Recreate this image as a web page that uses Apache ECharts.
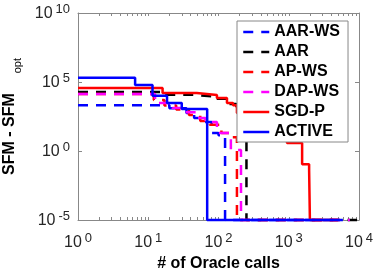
<!DOCTYPE html>
<html><head><meta charset="utf-8">
<script src="https://cdn.jsdelivr.net/npm/echarts@6/dist/echarts.min.js"></script>
<style>html,body{margin:0;padding:0;background:#fff}#c{width:374px;height:272px}</style>
</head><body><div id="c"></div>
<script>
// ---- data ----
const seriesNames = ['AAR-WS', 'AAR', 'AP-WS', 'DAP-WS', 'SGD-P', 'ACTIVE'];

const aarwsX = [1, 20, 35, 45, 55, 80, 100, 124, 5000];
const aarwsY = [2100, 1250, 560, 250, 125, 20, 14, 1e-5, 1e-5];

const aarX = [1, 15, 45, 80, 130, 180, 250, 9400];
const aarY = [19000, 12000, 9000, 6000, 2500, 800, 1e-5, 1e-5];

const apwsX = [1, 12, 17, 25, 38, 55, 75, 110, 150, 183, 5000];
const apwsY = [13500, 5000, 2000, 1000, 400, 150, 80, 20, 10, 1e-5, 1e-5];

const dapwsX = [1, 12.5, 22, 33, 48, 65, 95, 150, 209, 7400];
const dapwsY = [13500, 3000, 1300, 630, 250, 125, 20, 1.2, 1e-5, 1e-5];

const sgdpX = [1, 16, 49, 95, 132, 161, 183, 300, 500, 700, 944, 1550, 1950, 2000, 5000];
const sgdpY = [37000, 16000, 11500, 7000, 3000, 2100, 560, 200, 50, 15, 3.8, 0.11, 0.04, 1e-5, 1e-5];

const activeX = [1, 6.5, 11.5, 18.5, 30, 69, 5900];
const activeY = [200000, 60000, 10000, 3000, 1100, 1e-5, 1e-5];

const xTickLabels = [1, 10, 100, 1000, 10000];
const yTickLabels = [1e-5, 1, 1e5, 1e10];

// ---- build ----
const xMinorTicks = [];
for (let d = 1; d < 10000; d *= 10) for (let k = 1; k < 10; k++) xMinorTicks.push(d * k);
xMinorTicks.push(10000);

function zip(xs, ys) { return xs.map((x, i) => [x, ys[i]]); }
const FONT = 'Liberation Sans';
const expLabel = v => '{b|10}{s|' + Math.round(Math.log10(v)) + '}';
const labelRich = {
  b: { fontSize: 16, fontFamily: FONT, color: '#262626', lineHeight: 18, verticalAlign: 'bottom' },
  s: { fontSize: 13, fontFamily: FONT, color: '#262626', lineHeight: 13, verticalAlign: 'bottom', padding: [0, 0, 6, 3] }
};
const axisLine = { show: true, lineStyle: { color: '#888', width: 1 } };

const defs = [
  [aarwsX, aarwsY, '#0000ff', 'dashed'],
  [aarX, aarY, '#000000', 'dashed'],
  [apwsX, apwsY, '#ff0000', 'dashed'],
  [dapwsX, dapwsY, '#ff00ff', 'dashed'],
  [sgdpX, sgdpY, '#ff0000', 'solid'],
  [activeX, activeY, '#0000ff', 'solid']
];

const series = defs.map((d, i) => ({
  name: seriesNames[i],
  type: 'line',
  step: 'end',
  symbol: 'none',
  clip: false,
  data: zip(d[0], d[1]),
  lineStyle: { color: d[2], width: 2.5, type: d[3] === 'dashed' ? [10, 8] : 'solid' },
  itemStyle: { color: d[2] }
}));

const chart = echarts.init(document.getElementById('c'), null, { renderer: 'canvas' });
chart.setOption({
  animation: false,
  backgroundColor: '#fff',
  grid: { left: 78, right: 15, top: 13, bottom: 52, containLabel: false, outerBoundsMode: 'none' },
  xAxis: [{
    type: 'log', logBase: 10, min: 1, max: 10000, position: 'bottom',
    axisLine: axisLine,
    axisTick: { show: true, inside: true, length: 3, customValues: xMinorTicks, lineStyle: { color: '#888' } },
    axisLabel: { show: true, customValues: xTickLabels, formatter: expLabel, rich: labelRich, margin: 13 },
    splitLine: { show: false },
    name: '# of Oracle calls', nameLocation: 'middle', nameGap: 34,
    nameTextStyle: { fontSize: 16, fontWeight: 'bold', fontFamily: FONT, color: '#000' }
  }, {
    type: 'log', logBase: 10, min: 1, max: 10000, position: 'top',
    axisLine: axisLine,
    axisTick: { show: true, inside: true, length: 3, customValues: xMinorTicks, lineStyle: { color: '#888' } },
    axisLabel: { show: false },
    splitLine: { show: false }
  }],
  yAxis: [{
    type: 'log', logBase: 10, min: 1e-5, max: 1e10, position: 'left',
    axisLine: axisLine,
    axisTick: { show: true, inside: true, length: 4, customValues: yTickLabels, lineStyle: { color: '#888' } },
    axisLabel: { show: true, customValues: yTickLabels, formatter: expLabel, rich: labelRich, margin: 8 },
    splitLine: { show: false },
    name: '{m|SFM - SFM}{s|opt}', nameLocation: 'middle', nameGap: 55,
    nameTextStyle: {
      rich: {
        m: { fontSize: 16, fontWeight: 'bold', fontFamily: FONT, color: '#000', lineHeight: 16, verticalAlign: 'top' },
        s: { fontSize: 11, fontFamily: FONT, color: '#000', lineHeight: 11, verticalAlign: 'top', padding: [11, 0, 0, 20] }
      }
    }
  }, {
    type: 'log', logBase: 10, min: 1e-5, max: 1e10, position: 'right',
    axisLine: axisLine,
    axisTick: { show: true, inside: true, length: 4, customValues: yTickLabels, lineStyle: { color: '#888' } },
    axisLabel: { show: false },
    splitLine: { show: false }
  }],
  legend: {
    data: seriesNames,
    orient: 'vertical',
    left: 237, top: 21,
    padding: [3, 8, 2, 5],
    itemWidth: 26, itemHeight: 16, itemGap: 4,
    itemStyle: { opacity: 0, borderWidth: 0 },
    lineStyle: { width: 2.5 },
    backgroundColor: '#fff',
    borderColor: '#888', borderWidth: 1,
    textStyle: { fontSize: 16, fontWeight: 'bold', fontFamily: FONT, color: '#000', width: 59 }
  },
  series: series
});
</script>
</body></html>
